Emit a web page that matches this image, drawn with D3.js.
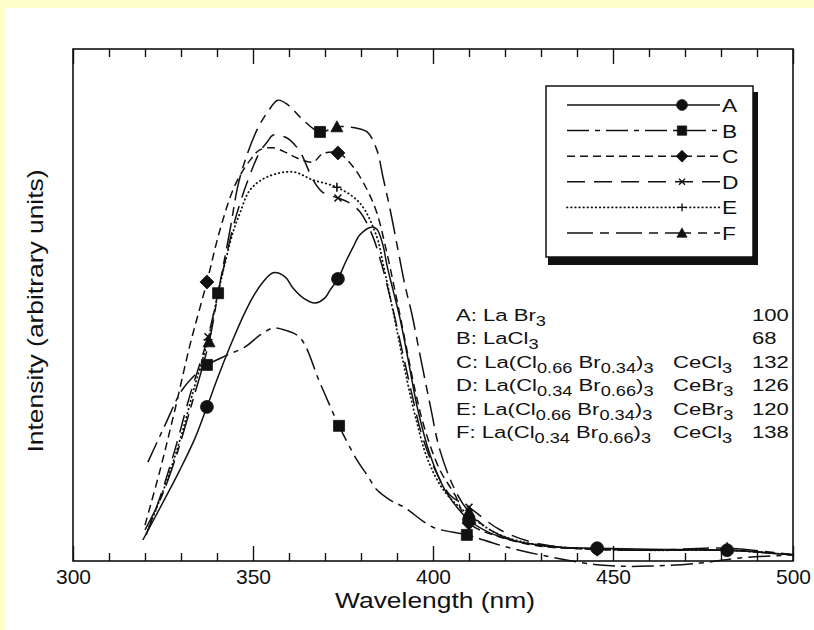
<!DOCTYPE html>
<html><head><meta charset="utf-8">
<script src="https://cdn.jsdelivr.net/npm/d3@7"></script>
<style>
html,body{margin:0;padding:0;background:#FFFFCC;}
svg{display:block}
text{font-family:"Liberation Sans",Arial,Helvetica,sans-serif;fill:#111}
</style></head><body>
<svg id="chart" width="814" height="630"></svg>
<script>
// ---------- data ----------
const xTickLabels = [300, 350, 400, 450, 500];
const xMinorTicks = [310,320,330,340,360,370,380,390,410,420,430,440,460,470,480,490];
const seriesKeys = ['A','B','C','D','E','F'];

const seriesA = [[319.4,4.1],[324.2,10.4],[329.7,17.8],[333.9,24.0],[337.2,30.1],[340.8,36.9],[344.4,43.2],[347.8,48.6],[350.0,51.6],[352.8,54.5],[355.6,56.3],[358.9,55.5],[361.1,53.3],[363.9,51.4],[367.2,50.4],[370.0,51.4],[371.4,52.9],[373.6,55.1],[375.6,58.2],[377.8,61.3],[379.7,63.7],[382.8,65.2],[384.4,64.8],[386.1,61.7],[387.2,57.8],[388.9,52.9],[390.8,47.5],[393.1,39.3],[395.8,29.5],[399.2,20.7],[403.3,13.9],[410.0,8.0],[415.8,5.5],[424.2,3.7],[435.3,2.7],[445.6,2.5],[460.3,2.3],[481.7,2.1],[500,1.2]];
const seriesB = [[320.8,19.3],[325.6,26.6],[330.3,33.4],[335.3,37.3],[337.2,38.3],[342.8,40.2],[347.8,41.8],[351.9,44.1],[355.6,45.5],[358.9,45.1],[363.1,43.6],[368.6,34.8],[373.9,26.4],[378.9,19.7],[381.7,16.8],[384.4,13.9],[388.1,11.9],[392.2,10.4],[400.0,6.6],[409.4,5.1],[418.6,3.1],[429.7,1.2],[446.4,-0.8],[460.3,-1.0],[474.2,-0.4],[485.3,0.6],[500,1.2]];
const seriesC = [[320.0,7.0],[324.2,17.8],[328.3,29.5],[332.5,42.2],[337.2,54.5],[340.8,64.6],[345.0,73.4],[349.2,78.3],[351.9,80.3],[355.6,80.7],[359.4,79.7],[362.2,78.7],[366.7,77.9],[369.2,79.5],[373.6,79.7],[377.8,77.0],[381.7,72.5],[384.4,68.0],[386.7,61.7],[389.4,52.9],[392.2,43.2],[395.0,33.4],[397.8,25.6],[401.9,17.8],[406.1,12.9],[410.0,7.4],[418.6,4.7],[429.7,2.9],[445.6,2.3],[460.3,2.1],[481.7,2.1],[500,1.2]];
const seriesD = [[320.3,5.1],[324.2,12.5],[328.3,21.7],[332.5,32.4],[337.5,43.8],[341.4,55.9],[345.0,66.6],[348.6,74.4],[351.9,79.9],[353.9,81.8],[355.6,83.2],[358.9,82.8],[360.3,82.2],[363.1,79.9],[366.7,74.4],[369.2,72.1],[373.6,70.9],[376.4,70.1],[379.7,68.2],[383.1,63.7],[385.8,57.8],[388.6,50.0],[391.4,41.2],[394.2,32.4],[396.9,24.6],[400.6,17.8],[404.7,12.9],[410.0,10.5],[418.6,6.1],[429.7,3.3],[445.6,2.3],[460.3,2.1],[481.7,2.1],[500,1.2]];
const seriesE = [[320.8,6.1],[325.6,14.8],[329.7,23.6],[333.9,34.4],[337.5,43.2],[340.8,53.9],[344.4,64.1],[346.4,68.0],[349.2,72.5],[353.9,75.0],[361.1,76.0],[366.7,74.4],[373.3,73.0],[379.7,69.9],[384.4,63.3],[386.1,58.2],[389.4,47.1],[392.2,37.3],[395.0,28.5],[398.6,19.7],[403.3,13.5],[410.0,9.0],[418.6,5.1],[429.7,3.1],[445.6,2.3],[460.3,2.1],[481.7,2.1],[500,1.2]];
const seriesF = [[320.0,6.1],[324.2,11.9],[328.3,19.7],[332.5,29.5],[337.8,42.8],[340.3,52.3],[343.6,64.6],[346.4,75.0],[351.1,84.2],[353.9,87.5],[356.9,90.0],[359.7,89.1],[363.1,86.7],[368.6,83.8],[373.3,84.8],[378.3,84.6],[381.7,83.8],[384.4,80.3],[386.1,75.0],[388.1,68.6],[390.3,60.7],[392.2,53.9],[394.2,48.0],[396.4,40.2],[399.2,30.5],[401.9,21.7],[406.1,13.9],[410.0,9.6],[415.8,6.1],[424.2,3.7],[435.3,2.7],[445.6,2.3],[460.3,2.1],[481.7,2.5],[500,1.2]];

// wavelengths where symbols sit on each curve
const markersA = [337.2, 373.6, 410.0, 445.6, 481.7];
const markersB = [337.2, 373.9, 409.4];
const markersC = [337.2, 373.6, 410.0, 445.6];
const markersD = [337.5, 373.6, 410.0];
const markersE = [337.5, 373.3, 410.0];
const markersF = [337.8, 373.3, 410.0, 481.7];
const squaresOnF = [340.3, 368.6];

// annotation table
const hostFormulas = [
  [['A: La Br',0],['3',1]],
  [['B: LaCl',0],['3',1]],
  [['C: La(Cl',0],['0.66',1],[' Br',0],['0.34',1],[')',0],['3',1]],
  [['D: La(Cl',0],['0.34',1],[' Br',0],['0.66',1],[')',0],['3',1]],
  [['E: La(Cl',0],['0.66',1],[' Br',0],['0.34',1],[')',0],['3',1]],
  [['F: La(Cl',0],['0.34',1],[' Br',0],['0.66',1],[')',0],['3',1]]
];
const activators = [null, null, 'CeCl', 'CeBr', 'CeBr', 'CeCl'];
const relIntensity = [100, 68, 132, 126, 120, 138];

// ---------- drawing ----------
const svg = d3.select('#chart');
svg.append('rect').attr('x',6).attr('y',8).attr('width',808).attr('height',622).attr('fill','#fff');

const x = d3.scaleLinear().domain([300,500]).range([73,793]);
const y = d3.scaleLinear().domain([0,100]).range([561,49]);

const ink = '#111';
const dash = {A:null, B:'22,6,5,6', C:'8,5', D:'18,9', E:'0.5,3.6', F:'26,7,9,7'};
const data = {A:seriesA,B:seriesB,C:seriesC,D:seriesD,E:seriesE,F:seriesF};
const marks = {A:markersA,B:markersB,C:markersC,D:markersD,E:markersE,F:markersF};

function symbolPath(key){
  switch(key){
    case 'A': return d3.symbol(d3.symbolCircle, 130)();
    case 'B': return 'M-5.5,-5.5H5.5V5.5H-5.5Z';
    case 'C': return 'M0,-7L7,0L0,7L-7,0Z';
    case 'D': return 'M-3.5,-3.5L3.5,3.5M-3.5,3.5L3.5,-3.5';
    case 'E': return 'M-4.5,0H4.5M0,-4.5V4.5';
    case 'F': return 'M0,-6L6,5L-6,5Z';
  }
}
function drawSymbol(g, key, px, py, scale){
  const open = (key==='D'||key==='E');
  g.append('path').attr('d', symbolPath(key))
    .attr('transform',`translate(${px},${py}) scale(${scale||1})`)
    .attr('fill', open ? 'none' : ink)
    .attr('stroke', ink).attr('stroke-width', open ? 1.6 : 0.8);
}

// frame
svg.append('rect').attr('x',x(300)).attr('y',y(100)).attr('width',x(500)-x(300)).attr('height',y(0)-y(100))
  .attr('fill','none').attr('stroke',ink).attr('stroke-width',1.6);

// axes
const gb1 = svg.append('g').attr('transform',`translate(0,${y(0)})`)
  .call(d3.axisBottom(x).tickValues(xMinorTicks).tickSizeInner(-8).tickSizeOuter(0).tickFormat(''));
const gb2 = svg.append('g').attr('transform',`translate(0,${y(0)})`)
  .call(d3.axisBottom(x).tickValues(xTickLabels).tickSizeInner(-15).tickSizeOuter(0).tickPadding(8).tickFormat(d3.format('d')));
const gt1 = svg.append('g').attr('transform',`translate(0,${y(100)})`)
  .call(d3.axisTop(x).tickValues(xMinorTicks).tickSizeInner(-8).tickSizeOuter(0).tickFormat(''));
const gt2 = svg.append('g').attr('transform',`translate(0,${y(100)})`)
  .call(d3.axisTop(x).tickValues(xTickLabels).tickSizeInner(-15).tickSizeOuter(0).tickFormat(''));
[gb1,gb2,gt1,gt2].forEach(g=>{
  g.select('.domain').remove();
  g.selectAll('line').attr('stroke',ink).attr('stroke-width',1.4);
  g.selectAll('text').attr('font-size',21).attr('fill',ink).style('font-family','"Liberation Sans",Arial,sans-serif');
});

// axis titles
svg.append('text').attr('transform','translate(435,608) scale(1.2,1)').attr('text-anchor','middle')
  .attr('font-size',22).text('Wavelength (nm)');
svg.append('text').attr('transform','translate(43,311) rotate(-90) scale(1.2,1)').attr('text-anchor','middle')
  .attr('font-size',22).text('Intensity (arbitrary units)');

// curves
const line = d3.line().x(d=>x(d[0])).y(d=>y(d[1])).curve(d3.curveCatmullRom.alpha(0.5));
const curves = svg.append('g');
seriesKeys.forEach(k=>{
  curves.append('path').datum(data[k]).attr('d',line)
    .attr('fill','none').attr('stroke',ink).attr('stroke-width',k==='E'?1.8:1.5)
    .attr('stroke-linecap',k==='E'?'round':'butt')
    .attr('stroke-dasharray',dash[k]);
});
const mg = svg.append('g');
seriesKeys.forEach(k=>{
  marks[k].forEach(w=>{
    const pt = data[k].find(d=>d[0]===w);
    drawSymbol(mg, k, x(pt[0]), y(pt[1]));
  });
});
squaresOnF.forEach(w=>{
  const pt = seriesF.find(d=>d[0]===w);
  drawSymbol(mg, 'B', x(pt[0]), y(pt[1]));
});

// legend box
const lg = svg.append('g');
lg.append('rect').attr('x',548).attr('y',92).attr('width',210).attr('height',173).attr('fill',ink);
lg.append('rect').attr('x',546).attr('y',86).attr('width',207).attr('height',171).attr('fill','#fff')
  .attr('stroke',ink).attr('stroke-width',1.5);
seriesKeys.forEach((k,i)=>{
  const ly = 105 + i*25.6;
  lg.append('line').attr('x1',567).attr('x2',720).attr('y1',ly).attr('y2',ly)
    .attr('stroke',ink).attr('stroke-width',k==='E'?1.8:1.5)
    .attr('stroke-linecap',k==='E'?'round':'butt')
    .attr('stroke-dasharray',dash[k]);
  drawSymbol(lg, k, 682, ly, 0.85);
  lg.append('text').attr('transform',`translate(722,${ly+7}) scale(1.2,1)`).attr('font-size',19).text(k);
});

// annotation table
const at = svg.append('g');
hostFormulas.forEach((parts,i)=>{
  const by = 321 + i*23.4;
  const t = at.append('text').attr('transform',`translate(456,${by}) scale(1.3,1)`).attr('font-size',17);
  let lowered = false;
  parts.forEach(([s,sub])=>{
    const ts = t.append('tspan').text(s);
    if (sub && !lowered){ ts.attr('dy',5).attr('font-size',14); lowered = true; }
    else if (sub){ ts.attr('font-size',14); }
    else if (!sub && lowered){ ts.attr('dy',-5); lowered = false; }
  });
  if (activators[i]){
    const a = at.append('text').attr('transform',`translate(673,${by}) scale(1.3,1)`).attr('font-size',17);
    a.append('tspan').text(activators[i]);
    a.append('tspan').attr('dy',5).attr('font-size',14).text('3');
  }
  at.append('text').attr('transform',`translate(752,${by}) scale(1.3,1)`).attr('font-size',17).text(relIntensity[i]);
});
</script>
</body></html>
